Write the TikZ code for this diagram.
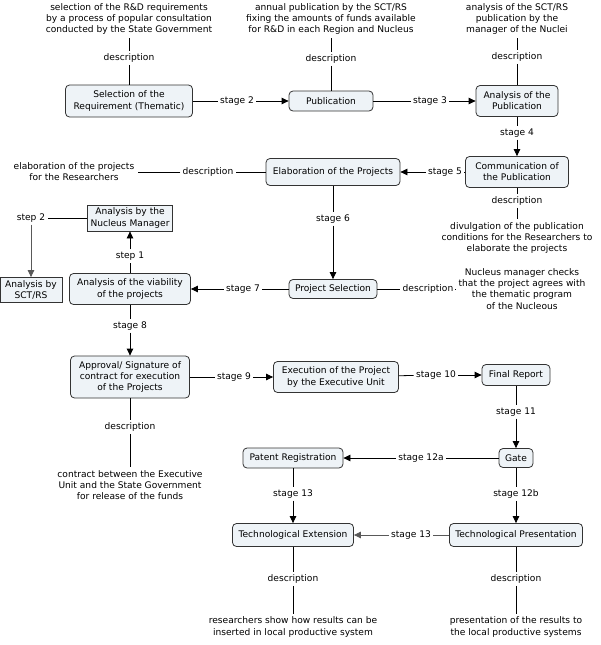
\documentclass[tikz,border=0pt]{standalone}
\usepackage{fontspec}
\setmainfont{DejaVu Sans}
\usetikzlibrary{arrows.meta}
\definecolor{boxfill}{HTML}{EEF3F7}
\definecolor{boxline}{HTML}{333333}
\newcommand\myfs{\fontsize{9.1}{11.2}\selectfont}
\begin{document}
\begin{tikzpicture}[x=1pt,y=-1pt,
  box/.style={draw=boxline, fill=boxfill, rounded corners=4pt, align=center, inner xsep=3pt, inner ysep=2pt, font=\myfs, line width=0.8pt},
  rbox/.style={box, rounded corners=0pt},
  lbl/.style={inner sep=2pt, font=\myfs},
  txt/.style={align=center, font=\myfs, inner sep=3pt},
  arr/.style={-{Triangle[length=7pt,width=6.5pt]}},
  every path/.style={line width=0.8pt},
  gr/.style={draw=black!65}
]
\useasboundingbox (0,0) rectangle (600,645);
% ---- row 1
\node[txt] (d1) at (129,19) {selection of the R\&D requirements\\by a process of popular consultation\\conducted by the State Government};
\node[lbl] (d1l) at (129,58) {description};
\node[box, minimum width=127pt, minimum height=32pt] (sel) at (129,101) {Selection of the\\Requirement (Thematic)};
\node[txt] (d2) at (331,19) {annual publication by the SCT/RS\\fixing the amounts of funds available\\for R\&D in each Region and Nucleus};
\node[lbl] (d2l) at (331,59) {description};
\node[box, minimum width=84pt, minimum height=20pt] (pub) at (331,101) {Publication};
\node[txt] (d3) at (517,19) {analysis of the SCT/RS\\publication by the\\manager of the Nuclei};
\node[lbl] (d3l) at (517,57) {description};
\node[box, minimum width=82pt, minimum height=31pt] (anp) at (517,101) {Analysis of the\\Publication};
\node[lbl] (s2) at (237,101) {stage 2};
\node[lbl] (s3) at (430,101) {stage 3};
\node[lbl] (s4) at (517,133) {stage 4};
% ---- row 2
\node[box, minimum width=103pt, minimum height=31pt] (com) at (517,172) {Communication of\\the Publication};
\node[box, minimum width=134pt, minimum height=27pt] (ela) at (333,172) {Elaboration of the Projects};
\node[lbl] (s5) at (445,172) {stage 5};
\node[lbl] (elal) at (208,172) {description};
\node[txt] (elat) at (74,172) {elaboration of the projects\\for the Researchers};
\node[lbl] (coml) at (517,201) {description};
\node[txt] (comt) at (517,238) {divulgation of the publication\\conditions for the Researchers to\\elaborate the projects};
\node[lbl] (s6) at (333,219) {stage 6};
% ---- row 3
\node[box, minimum width=88pt, minimum height=19pt] (psel) at (333,289) {Project Selection};
\node[lbl] (psell) at (428,289) {description};
\node[txt] (pselt) at (522,289) {Nucleus manager checks\\that the project agrees with\\the thematic program\\of the Nucleous};
\node[lbl] (s7) at (243,289) {stage 7};
\node[box, minimum width=121pt, minimum height=31pt] (via) at (130,289) {Analysis of the viability\\of the projects};
\node[lbl] (st1) at (130,256) {step 1};
\node[rbox, minimum width=85pt, minimum height=26pt] (nm) at (130,218) {Analysis by the\\Nucleus Manager};
\node[lbl] (st2) at (31,218) {step 2};
\node[rbox, minimum width=62pt, minimum height=25pt] (sct) at (31,290) {Analysis by\\SCT/RS};
% ---- row 4
\node[lbl] (s8) at (130,326) {stage 8};
\node[box, minimum width=119pt, minimum height=42pt] (app) at (130,377) {Approval/ Signature of\\contract for execution\\of the Projects};
\node[lbl] (s9) at (234,377) {stage 9};
\node[box, minimum width=125pt, minimum height=31pt] (exe) at (336,377) {Execution of the Project\\by the Executive Unit};
\node[lbl] (s10) at (436,375) {stage 10};
\node[box, minimum width=68pt, minimum height=21pt] (fin) at (516,375) {Final Report};
\node[lbl] (appl) at (130,427) {description};
\node[txt] (appt) at (130,485) {contract between the Executive\\Unit and the State Government\\for release of the funds};
% ---- row 5
\node[lbl] (s11) at (516,412) {stage 11};
\node[box, minimum width=34pt, minimum height=19pt] (gate) at (516,458) {Gate};
\node[lbl] (s12a) at (421,458) {stage 12a};
\node[box, minimum width=100pt, minimum height=20pt] (pat) at (293,458) {Patent Registration};
\node[lbl] (s13a) at (293,494) {stage 13};
\node[lbl] (s12b) at (516,494) {stage 12b};
\node[box, minimum width=121pt, minimum height=23pt] (tex) at (293,535) {Technological Extension};
\node[box, minimum width=133pt, minimum height=23pt] (tpr) at (516,535) {Technological Presentation};
\node[lbl] (s13b) at (411,535) {stage 13};
\node[lbl] (texl) at (293,579) {description};
\node[txt] (text) at (293,627) {researchers show how results can be\\inserted in local productive system};
\node[lbl] (tprl) at (516,579) {description};
\node[txt] (tprt) at (516,627) {presentation of the results to\\the local productive systems};
% ---- connectors
\draw (d1) -- (d1l); \draw (d1l) -- (sel);
\draw (d2) -- (d2l); \draw (d2l) -- (pub);
\draw (d3) -- (d3l); \draw (d3l) -- (anp);
\draw (sel) -- (s2); \draw[arr] (s2) -- (pub);
\draw (pub) -- (s3); \draw[arr] (s3) -- (anp);
\draw (anp) -- (s4); \draw[arr] (s4) -- (com);
\draw (com) -- (s5); \draw[arr] (s5) -- (ela);
\draw (ela) -- (elal); \draw (elal) -- (elat);
\draw (com) -- (coml); \draw (coml) -- (comt);
\draw (ela) -- (s6); \draw[arr] (s6) -- (psel);
\draw (psel) -- (psell); \draw (psell) -- (pselt);
\draw (psel) -- (s7); \draw[arr] (s7) -- (via);
\draw (via) -- (st1); \draw[arr] (st1) -- (nm);
\draw (nm) -- (st2); \draw[arr,gr] (st2) -- (sct);
\draw (via) -- (s8); \draw[arr] (s8) -- (app);
\draw (app) -- (s9); \draw[arr] (s9) -- (exe);
\draw (exe) -- (s10); \draw[arr] (s10) -- (fin);
\draw (app) -- (appl); \draw (appl) -- (appt);
\draw (fin) -- (s11); \draw[arr] (s11) -- (gate);
\draw (gate) -- (s12a); \draw[arr] (s12a) -- (pat);
\draw (gate) -- (s12b); \draw[arr] (s12b) -- (tpr);
\draw (pat) -- (s13a); \draw[arr] (s13a) -- (tex);
\draw[gr] (tpr) -- (s13b); \draw[arr,gr] (s13b) -- (tex);
\draw (tex) -- (texl); \draw (texl) -- (text);
\draw (tpr) -- (tprl); \draw (tprl) -- (tprt);
\end{tikzpicture}
\end{document}
